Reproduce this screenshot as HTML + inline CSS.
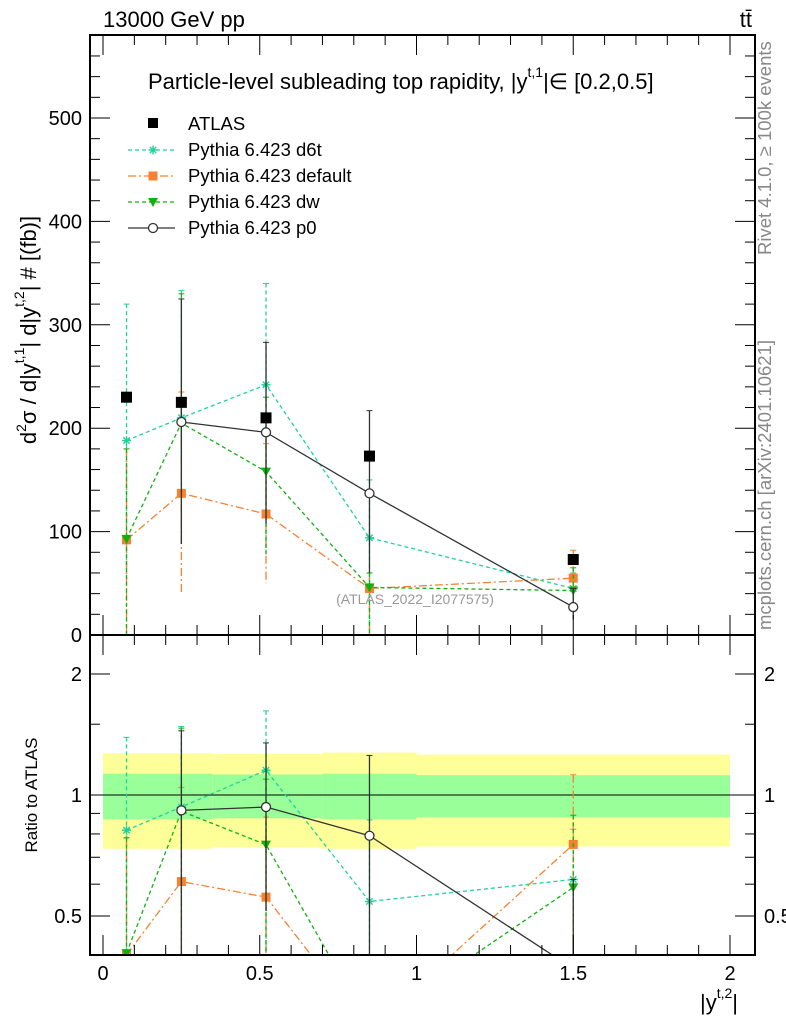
<!DOCTYPE html>
<html><head><meta charset="utf-8"><style>
html,body{margin:0;padding:0;background:#fff;overflow:hidden;width:786px;height:1024px}
svg{display:block}
svg text{font-family:"Liberation Sans",sans-serif}
</style></head><body>
<svg id="c" width="786" height="1024" xmlns="http://www.w3.org/2000/svg">
<defs>
<clipPath id="cm"><rect x="90" y="35" width="665" height="600"/></clipPath>
<clipPath id="cr"><rect x="90" y="635" width="665" height="320"/></clipPath>
</defs>
</svg>
<script>
const xs=[0.075,0.25,0.52,0.85,1.5];
const atlas=[230,225,210,173,73];
const d6t=[188,210,242,94,45];
const d6tUp=[320,333,340,150,60];
const d6tDn=[55,88,80,0,20];
const def=[92,137,117,45,55];
const defUp=[180,235,185,60,82];
const defDn=[0,40,50,0,30];
const dw=[93,205,158,46,43];
const dwUp=[180,330,230,60,65];
const dwDn=[0,88,78,0,20];
const p0=[null,206,196,137,27];
const p0Up=[null,325,283,217,45];
const p0Dn=[null,88,108,60,15];
const bandEdges=[0,0.35,0.7,1.0,2.0];
const bandYUp=[0.27,0.265,0.275,0.26];
const bandYDn=[0.265,0.26,0.265,0.255];
const bandGUp=[0.13,0.125,0.13,0.12];
const bandGDn=[0.13,0.125,0.13,0.12];
const mainTicks=[0,100,200,300,400,500];
const ratioTicks=[0.5,1,2];
const xTicks=[0,0.5,1,1.5,2];

const S=document.getElementById('c');const NS='http://www.w3.org/2000/svg';
const X=v=>103+v*313.5;
const Y=v=>635-v*1.034;
const R=v=>795-121*Math.log2(v);
function el(t,a,p){const e=document.createElementNS(NS,t);for(const k in a)e.setAttribute(k,a[k]);(p||S).appendChild(e);return e;}
function tx(x,y,s,size,anchor,fill){const e=el('text',{x:x,y:y,'font-size':size,'text-anchor':anchor||'start',fill:fill||'#000'});e.textContent=s;return e;}

const gb=el('g',{'clip-path':'url(#cr)'});


for(let i=0;i<bandYUp.length;i++){
 const x0=X(bandEdges[i]),x1=X(bandEdges[i+1]);
 el('rect',{x:x0,y:R(1+bandYUp[i]),width:x1-x0,height:R(1-bandYDn[i])-R(1+bandYUp[i]),fill:'#ffff99'},gb);
 el('rect',{x:x0,y:R(1+bandGUp[i]),width:x1-x0,height:R(1-bandGDn[i])-R(1+bandGUp[i]),fill:'#99ff99'},gb);
}
el('line',{x1:90,x2:755,y1:R(1),y2:R(1),stroke:'#000','stroke-width':1},gb);

const series=[
 {n:'d6t',v:d6t,u:d6tUp,d:d6tDn,c:'#1fd39a',dash:'4,3',m:'star'},
 {n:'default',v:def,u:defUp,d:defDn,c:'#f98030',dash:'8,3,2,3',m:'sq'},
 {n:'dw',v:dw,u:dwUp,d:dwDn,c:'#11b011',dash:'4,3',m:'tri'},
 {n:'p0',v:p0,u:p0Up,d:p0Dn,c:'#333',dash:'',m:'circ'}
];
function marker(g,m,x,y,c){
 if(m==='sq')el('rect',{x:x-4.5,y:y-4.5,width:9,height:9,fill:c},g);
 else if(m==='tri')el('path',{d:`M${x-5},${y-4}L${x+5},${y-4}L${x},${y+5}Z`,fill:c},g);
 else if(m==='circ')el('circle',{cx:x,cy:y,r:4.5,fill:'#fff',stroke:c,'stroke-width':1.3},g);
 else{for(let a=0;a<4;a++){const t=a*Math.PI/4;el('line',{x1:x-4.5*Math.cos(t),y1:y-4.5*Math.sin(t),x2:x+4.5*Math.cos(t),y2:y+4.5*Math.sin(t),stroke:c,'stroke-width':1.4},g);}}
}
function draw(g,s,Yf,ratio){
 let pts=[];
 s.v.forEach((v,i)=>{if(v==null)return;
  const val=ratio?v/atlas[i]:v,up=ratio?s.u[i]/atlas[i]:s.u[i],dn=ratio?Math.max(s.d[i]/atlas[i],0.01):s.d[i];
  const x=X(xs[i]);
  el('line',{x1:x,x2:x,y1:Yf(up),y2:Yf(dn),stroke:s.c,'stroke-width':1.3,'stroke-dasharray':s.dash},g);
  el('line',{x1:x-3,x2:x+3,y1:Yf(up),y2:Yf(up),stroke:s.c},g);
  pts.push([x,Yf(val)]);});
 el('polyline',{points:pts.map(p=>p.join(',')).join(' '),fill:'none',stroke:s.c,'stroke-width':1.3,'stroke-dasharray':s.dash},g);
 pts.forEach(p=>marker(g,s.m,p[0],p[1],s.c));
}
const gm=el('g',{'clip-path':'url(#cm)'});


const gr=el('g',{'clip-path':'url(#cr)'});


series.forEach(s=>{const g=el('g',{},gm);draw(g,s,Y,false);
 const g2=el('g',{},gr);draw(g2,s,R,true);});
atlas.forEach((v,i)=>{const r=el('rect',{x:X(xs[i])-5.5,y:Y(v)-5.5,width:11,height:11,fill:'#000'},gm);
 });
tx(415,604,'(ATLAS_2022_I2077575)',14,'middle','#999');

el('rect',{x:90,y:35,width:665,height:600,fill:'none',stroke:'#000','stroke-width':2});
el('rect',{x:90,y:635,width:665,height:320,fill:'none',stroke:'#000','stroke-width':2});
mainTicks.forEach(t=>{const y=Y(t);el('line',{x1:90,x2:110,y1:y,y2:y,stroke:'#000'});el('line',{x1:735,x2:755,y1:y,y2:y,stroke:'#000'});
 tx(82,y+7,String(t),20,'end');
 for(let k=1;k<5;k++){const yy=Y(t+k*20);if(yy>35){el('line',{x1:90,x2:100,y1:yy,y2:yy,stroke:'#000'});el('line',{x1:745,x2:755,y1:yy,y2:yy,stroke:'#000'});}}});
ratioTicks.forEach(t=>{const y=R(t);el('line',{x1:90,x2:110,y1:y,y2:y,stroke:'#000'});el('line',{x1:735,x2:755,y1:y,y2:y,stroke:'#000'});
 tx(82,y+7,String(t),20,'end');tx(764,y+7,String(t),20,'start');});
[0.6,0.7,0.8,0.9,1.5].forEach(t=>{const y=R(t);el('line',{x1:90,x2:100,y1:y,y2:y,stroke:'#000'});el('line',{x1:745,x2:755,y1:y,y2:y,stroke:'#000'});});
xTicks.forEach(t=>{const x=X(t);el('line',{x1:x,x2:x,y1:955,y2:935,stroke:'#000'});el('line',{x1:x,x2:x,y1:635,y2:615,stroke:'#000'});el('line',{x1:x,x2:x,y1:635,y2:655,stroke:'#000'});el('line',{x1:x,x2:x,y1:35,y2:55,stroke:'#000'});
 tx(x,980,String(t),20,'middle');
 for(let k=1;k<5;k++){const xx=X(t+k*0.1);if(xx<755){[[955,945],[635,625],[635,645],[35,45]].forEach(p=>el('line',{x1:xx,x2:xx,y1:p[0],y2:p[1],stroke:'#000'}));}}});

tx(103,27,'13000 GeV pp',22);tx(752,27,'tt̄',22,'end');
const ti=el('text',{x:148,y:89,'font-size':22});


ti.innerHTML='Particle-level subleading top rapidity, |y<tspan font-size="14" dy="-12">t,1</tspan><tspan dy="12">|∈ [0.2,0.5]</tspan>';
const lg=el('g',{});
el('rect',{x:148,y:118,width:10,height:10,fill:'#000'},lg);tx(188,130,'ATLAS',18.5);
const labs=['Pythia 6.423 d6t','Pythia 6.423 default','Pythia 6.423 dw','Pythia 6.423 p0'];
series.forEach((s,i)=>{const y=150+i*26;el('line',{x1:128,x2:175,y1:y,y2:y,stroke:s.c,'stroke-width':1.3,'stroke-dasharray':s.dash},lg);marker(lg,s.m,153,y,s.c);tx(188,y+6,labs[i],18.5);});
const yl=el('text',{transform:'translate(36,330) rotate(-90)','font-size':22,'text-anchor':'middle'});
yl.innerHTML='d<tspan font-size="14" dy="-10">2</tspan><tspan dy="10">σ / d|y</tspan><tspan font-size="14" dy="-12">t,1</tspan><tspan dy="12">| d|y</tspan><tspan font-size="14" dy="-12">t,2</tspan><tspan dy="12">| # [(fb)]</tspan>';

const yr=el('text',{transform:'translate(37,795) rotate(-90)','font-size':17,'text-anchor':'middle'});yr.textContent='Ratio to ATLAS';
const xl=el('text',{x:700,y:1010,'font-size':22});
xl.innerHTML='|y<tspan font-size="14" dy="-12">t,2</tspan><tspan dy="12">|</tspan>';

const r1=el('text',{transform:'translate(771,255) rotate(-90)','font-size':18.5,fill:'#888'});r1.textContent='Rivet 4.1.0, ≥ 100k events';
const r2=el('text',{transform:'translate(771,630) rotate(-90)','font-size':18.5,fill:'#888'});r2.textContent='mcplots.cern.ch [arXiv:2401.10621]';
</script>
</body></html>
